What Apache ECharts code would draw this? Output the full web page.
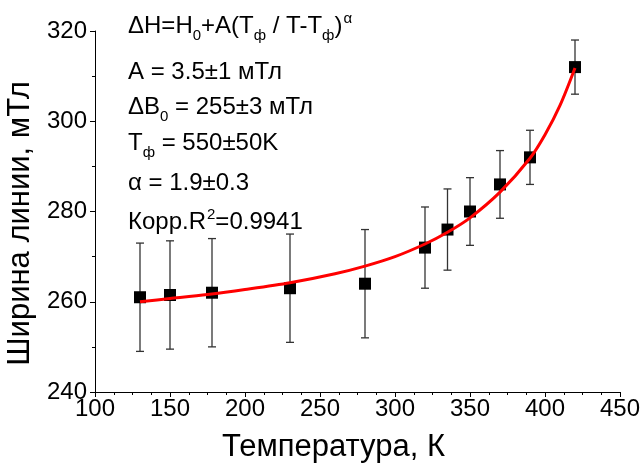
<!DOCTYPE html>
<html><head><meta charset="utf-8">
<script src="https://cdn.jsdelivr.net/npm/echarts@6/dist/echarts.min.js"></script>
<style>html,body{margin:0;padding:0;background:#fff}#c{width:641px;height:464px}</style>
</head><body><div id="c"></div>
<script>
const temps = [130, 150, 178, 230, 280, 320, 335, 350, 370, 390, 420];
const widths = [261, 261.5, 262, 263, 264, 272, 276, 280, 286, 292, 312];
const errors = [12, 12, 12, 12, 12, 9, 9, 7.5, 7.5, 6, 6];
const fitT = [130, 150, 175, 200, 230, 260, 280, 300, 320, 335, 350, 370, 390, 400, 410, 420];
const fitW = [260.0, 260.7, 261.6, 262.7, 264.2, 266.2, 267.9, 270.0, 272.8, 275.4, 278.6, 284.3, 291.8, 297.0, 303.5, 311.8];
const xTitle = 'Температура, К';
const yTitle = 'Ширина линии, мТл';
const notes = [
  '{t|ΔH=H}{sub|0}{t|+A(T}{sub|ф}{t| / T-T}{sub|ф}{t|)}{sup|α}',
  '{t|A = 3.5±1 мТл}',
  '{t|ΔB}{sub|0}{t| = 255±3 мТл}',
  '{t|T}{sub|ф}{t| = 550±50K}',
  '{t|α = 1.9±0.3}',
  '{t|Корр.R}{sup|2}{t|=0.9941}'
];
const noteTops = [9, 55, 90, 126, 166, 205];

const FF = '"Liberation Sans", Arial, sans-serif';
const rich = {
  t: {fontSize: 24, lineHeight: 34, verticalAlign: 'middle', fontFamily: FF, color: '#000', fontWeight: 'normal'},
  sub: {fontSize: 15, lineHeight: 14, verticalAlign: 'bottom', fontFamily: FF, color: '#000', fontWeight: 'normal'},
  sup: {fontSize: 15, lineHeight: 14, verticalAlign: 'top', fontFamily: FF, color: '#000', fontWeight: 'normal', padding: [2, 0, 0, 1]}
};

const chart = echarts.init(document.getElementById('c'), null, {renderer: 'canvas'});
const axisCommon = {
  axisLine: {show: true, lineStyle: {color: '#000', width: 1}},
  axisTick: {show: true, inside: false, length: 5, lineStyle: {color: '#000', width: 1}},
  minorTick: {show: true, length: 3, lineStyle: {color: '#000', width: 1}},
  splitLine: {show: false},
  axisLabel: {color: '#000', fontSize: 24, fontFamily: FF},
  nameTextStyle: {color: '#000', fontSize: 31, fontFamily: FF}
};
chart.setOption({
  animation: false,
  backgroundColor: '#fff',
  title: notes.map((n, i) => ({text: n, left: 128, top: noteTops[i], padding: 0, textStyle: {fontWeight: 'normal', rich: rich}})),
  grid: {left: 95, right: 21, top: 31, bottom: 72, outerBoundsMode: 'none'},
  xAxis: Object.assign({}, axisCommon, {
    type: 'value', min: 100, max: 450, interval: 50,
    minorTick: Object.assign({}, axisCommon.minorTick, {splitNumber: 4}),
    axisLabel: Object.assign({}, axisCommon.axisLabel, {margin: 5}),
    name: xTitle, nameLocation: 'middle', nameGap: 40,
    nameTextStyle: Object.assign({}, axisCommon.nameTextStyle, {padding: [0, 48, 0, 0]})
  }),
  yAxis: Object.assign({}, axisCommon, {
    type: 'value', min: 240, max: 320, interval: 20,
    minorTick: Object.assign({}, axisCommon.minorTick, {splitNumber: 2}),
    axisLabel: Object.assign({}, axisCommon.axisLabel, {margin: 8}),
    name: yTitle, nameLocation: 'middle', nameGap: 48,
    nameTextStyle: Object.assign({}, axisCommon.nameTextStyle, {padding: [0, 24, 0, 0]})
  }),
  series: [
    {
      type: 'custom',
      data: temps.map((t, i) => [t, widths[i], errors[i]]),
      renderItem: function (params, api) {
        const x = api.value(0), y = api.value(1), e = api.value(2);
        const top = api.coord([x, y + e]);
        const bot = api.coord([x, y - e]);
        const hw = 4;
        const st = {stroke: '#333', lineWidth: 1.3};
        return {type: 'group', children: [
          {type: 'line', shape: {x1: top[0], y1: top[1], x2: bot[0], y2: bot[1]}, style: st},
          {type: 'line', shape: {x1: top[0] - hw, y1: top[1], x2: top[0] + hw, y2: top[1]}, style: st},
          {type: 'line', shape: {x1: bot[0] - hw, y1: bot[1], x2: bot[0] + hw, y2: bot[1]}, style: st}
        ]};
      },
      z: 1
    },
    {
      type: 'scatter',
      data: temps.map((t, i) => [t, widths[i]]),
      symbol: 'rect', symbolSize: 12,
      itemStyle: {color: '#000', opacity: 1},
      z: 2
    },
    {
      type: 'line',
      data: fitT.map((t, i) => [t, fitW[i]]),
      smooth: 0.3, showSymbol: false, symbol: 'none',
      lineStyle: {color: '#ff0000', width: 3},
      z: 3
    }
  ]
});
</script></body></html>
